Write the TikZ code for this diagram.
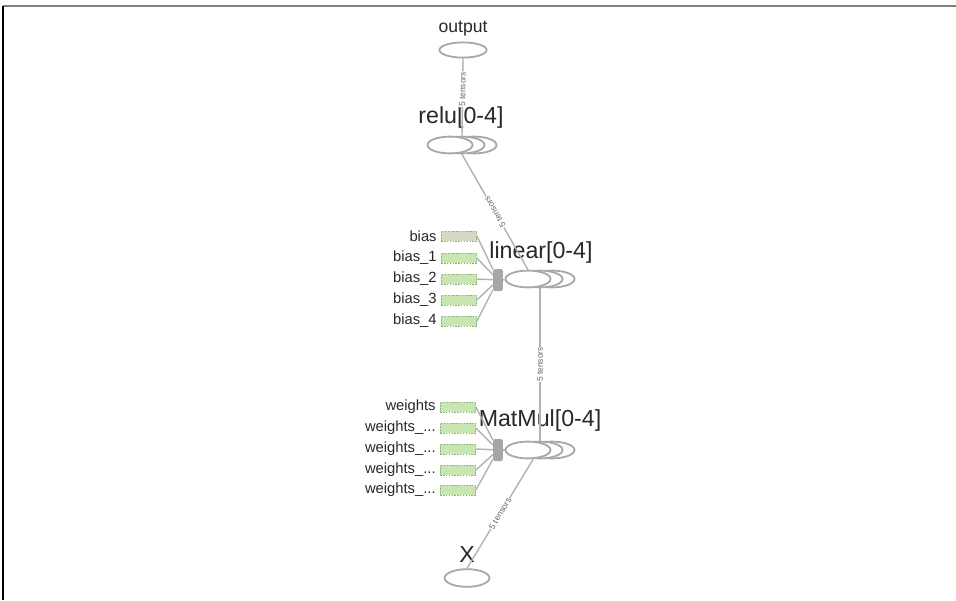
\documentclass[tikz,border=0pt]{standalone}
\usepackage{fontspec}
\setmainfont{Liberation Sans}
\usetikzlibrary{shapes.geometric,positioning}

\definecolor{edgegray}{RGB}{178,178,178}
\definecolor{opgray}{RGB}{168,168,168}
\definecolor{varfill}{RGB}{200,230,178}
\definecolor{varfirst}{RGB}{212,218,194}
\definecolor{vardraw}{RGB}{145,175,125}
\definecolor{txt}{RGB}{40,40,40}

\begin{document}
\begin{tikzpicture}[x=0.025cm, y=-0.025cm,
    op node/.style={ellipse, draw=opgray, line width=1.3pt, fill=white, minimum width=1.125cm, minimum height=0.42cm, inner sep=0pt},
    var node/.style={rectangle, draw=vardraw, dash pattern=on 1pt off 1pt, fill=varfill, minimum width=0.88cm, minimum height=0.26cm, inner sep=0pt},
    col node/.style={rectangle, rounded corners=1.5pt, fill=gray!70, minimum width=0.24cm, minimum height=0.55cm, inner sep=0pt},
    small lab/.style={font=\fontsize{10.5}{12}\selectfont, text=txt, inner sep=1pt},
    big lab/.style={font=\fontsize{16.5}{19}\selectfont, text=txt, inner sep=0pt},
    edge lab/.style={font=\fontsize{6}{7}\selectfont, text=gray!80!black, fill=white, inner sep=0.4pt, sloped, allow upside down},
    link/.style={draw=edgegray, line width=1pt}]

    \useasboundingbox (0,0) rectangle (956,600);

    % cadre
    \draw[gray, line width=1.4pt] (3,6) -- (956,6);
    \draw[black, line width=1.4pt] (3,6) -- (3,600);

    % sortie et entree
    \node[op node, minimum width=1.18cm, minimum height=0.38cm] (out) at (463,50) {};
    \node[font=\fontsize{12.5}{14}\selectfont, text=txt, inner sep=0pt] (outlab) at (463,29) {output};
    \node[op node, minimum width=1.12cm, minimum height=0.44cm] (xin) at (467,578) {};
    \node[big lab] (xlab) at (467,555) {X};

    % relu
    \node[op node] (relu2) at (474,145) {};
    \node[op node] (relu1) at (462,145) {};
    \node[op node] (relu0) at (450,145) {};
    \node[big lab] (relulab) at (461,117) {relu[0-4]};

    % linear
    \node[op node] (lin2) at (552,279) {};
    \node[op node] (lin1) at (540,279) {};
    \node[op node] (lin0) at (528,279) {};
    \node[big lab] (linlab) at (541,252) {linear[0-4]};
    \node[col node] (bcol) at (498,280) {};

    % MatMul
    \node[op node] (mm2) at (552,450) {};
    \node[op node] (mm1) at (540,450) {};
    \node[op node] (mm0) at (528,450) {};
    \node[big lab] (mmlab) at (540,420) {MatMul[0-4]};
    \node[col node] (wcol) at (498,450) {};

    % biais
    \node[var node, fill=varfirst] (b0) at (459,236) {};
    \node[var node] (b1) at (459,258) {};
    \node[var node] (b2) at (459,279) {};
    \node[var node] (b3) at (459,300) {};
    \node[var node] (b4) at (459,321) {};
    \node[small lab, left=2pt of b0] (b0t) {bias};
    \node[small lab, left=2pt of b1] (b1t) {bias\_1};
    \node[small lab, left=2pt of b2] (b2t) {bias\_2};
    \node[small lab, left=2pt of b3] (b3t) {bias\_3};
    \node[small lab, left=2pt of b4] (b4t) {bias\_4};

    % poids
    \node[var node] (w0) at (458,407) {};
    \node[var node] (w1) at (458,428) {};
    \node[var node] (w2) at (458,449) {};
    \node[var node] (w3) at (458,470) {};
    \node[var node] (w4) at (458,490) {};
    \node[small lab, left=2pt of w0] (w0t) {weights};
    \node[small lab, left=2pt of w1] (w1t) {weights\_...};
    \node[small lab, left=2pt of w2] (w2t) {weights\_...};
    \node[small lab, left=2pt of w3] (w3t) {weights\_...};
    \node[small lab, left=2pt of w4] (w4t) {weights\_...};

    \draw[link] (b0.east) -- (bcol);
    \draw[link] (b1.east) -- (bcol);
    \draw[link] (b2.east) -- (bcol);
    \draw[link] (b3.east) -- (bcol);
    \draw[link] (b4.east) -- (bcol);
    \draw[link] (bcol) -- (lin0);

    \draw[link] (w0.east) -- (wcol);
    \draw[link] (w1.east) -- (wcol);
    \draw[link] (w2.east) -- (wcol);
    \draw[link] (w3.east) -- (wcol);
    \draw[link] (w4.east) -- (wcol);
    \draw[link] (wcol) -- (mm0);

    % flux des tenseurs
    \draw[link] (relu1.north) -- node[edge lab, pos=0.6] (e1) {5 tensors} (out.south);
    \draw[link] (lin0.north) -- node[edge lab] (e2) {5 tensors} (relu1.south);
    \draw[link] (mm1.north) -- node[edge lab] (e3) {5 tensors} (lin1.south);
    \draw[link] (xin.north) -- node[edge lab] (e4) {5 tensors} (mm0.-60);
\end{tikzpicture}
\end{document}
